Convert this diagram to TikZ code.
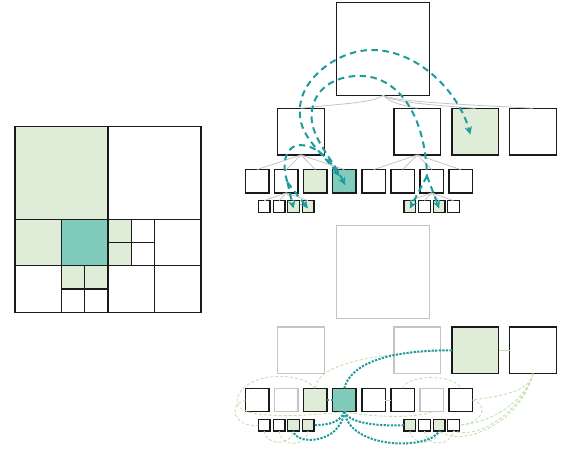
\documentclass[tikz,border=0pt]{standalone}
\usetikzlibrary{arrows.meta}
\definecolor{leaf}{HTML}{DFEDD8}
\definecolor{query}{HTML}{80CBBB}
\definecolor{path}{HTML}{1E9C9C}
\definecolor{adj}{HTML}{C2E0AE}
\definecolor{faint}{HTML}{C4C4C4}
\definecolor{ink}{HTML}{1A1A1A}
\tikzset{
  cell/.style={draw=ink, line width=1.4pt, inner sep=0pt, outer sep=0pt, fill=white},
  ghost/.style={cell, draw=faint},
  lvl0/.style={minimum size=93pt},
  lvl1/.style={minimum size=46.6pt},
  lvl2/.style={minimum size=23.3pt},
  lvl3/.style={minimum size=11.6pt},
  near/.style={fill=leaf},
  self/.style={fill=query},
  treeline/.style={draw=faint, line width=0.8pt},
  hop/.style={draw=path, line width=2pt, dash pattern=on 6.5pt off 4.5pt},
  head/.tip={Stealth[length=8pt,width=7.5pt]},
  probe/.style={draw=path, line width=2pt, dash pattern=on 2.2pt off 1.4pt},
  link/.style={draw=adj, line width=0.9pt, dash pattern=on 3pt off 2pt},
}
\begin{document}
\begin{tikzpicture}[x=1pt, y=-1pt]
\useasboundingbox (0,0) rectangle (566,449);

% ---------- spatial subdivision ----------
\begin{scope}[shift={(15,126.3)}, x=23.25pt, y=-23.25pt]
  \fill[leaf] (0,0) rectangle (4,4);
  \fill[leaf] (0,4) rectangle (2,6);
  \fill[leaf] (2,6) rectangle (4,7);
  \fill[leaf] (4,4) rectangle (5,6);
  \fill[query] (2,4) rectangle (4,6);
  \begin{scope}[draw=ink, line width=1.4pt]
    \draw (0,0) rectangle (8,8);
    \draw (4,0) -- (4,8);
    \draw (0,4) -- (8,4);
    \draw (2,4) -- (2,8);
    \draw (0,6) -- (8,6);
    \draw (3,6) -- (3,8);
    \draw (2,7) -- (4,7);
    \draw (6,4) -- (6,8);
    \draw (5,4) -- (5,6);
    \draw (4,5) -- (6,5);
  \end{scope}
\end{scope}

% ---------- upper tree ----------
\node[cell,lvl0] (r) at (382.8,48.8) {};
\node[cell,lvl1] (a1) at (301,131.6) {};
\node[cell,lvl1] (a2) at (417.3,131.6) {};
\node[cell,lvl1,near] (a3) at (475.3,131.6) {};
\node[cell,lvl1] (a4) at (533,131.6) {};
\node[cell,lvl2] (b1) at (257.3,181.2) {};
\node[cell,lvl2] (b2) at (286.3,181.2) {};
\node[cell,lvl2,near] (b3) at (315.3,181.2) {};
\node[cell,lvl2,self] (b4) at (344.3,181.2) {};
\node[cell,lvl2] (b5) at (373.7,181.2) {};
\node[cell,lvl2] (b6) at (402.7,181.2) {};
\node[cell,lvl2] (b7) at (431.7,181.2) {};
\node[cell,lvl2] (b8) at (460.7,181.2) {};
\node[cell,lvl3] (c1) at (264.1,206.5) {};
\node[cell,lvl3] (c2) at (279.2,206.5) {};
\node[cell,lvl3,near] (c3) at (293.5,206.5) {};
\node[cell,lvl3,near] (c4) at (308,206.5) {};
\node[cell,lvl3,near] (c5) at (409.9,206.5) {};
\node[cell,lvl3] (c6) at (424.5,206.5) {};
\node[cell,lvl3,near] (c7) at (439.2,206.5) {};
\node[cell,lvl3] (c8) at (453.5,206.5) {};

\draw[treeline] (r.south) .. controls +(-8,8) and +(30,-4) .. (a1.north);
\draw[treeline] (r.south) .. controls +(8,7) and +(-20,-4) .. (a2.north);
\draw[treeline] (r.south) .. controls +(10,7) and +(-40,-3) .. (a3.north);
\draw[treeline] (r.south) .. controls +(12,7) and +(-50,-3) .. (a4.north);
\foreach \i in {1,2,3,4} \draw[treeline] (a1.south) -- (b\i.north);
\foreach \i in {5,6,7,8} \draw[treeline] (a2.south) -- (b\i.north);
\foreach \i in {1,2,3,4} \draw[treeline] (b2.south) -- (c\i.north);
\foreach \i in {5,6,7,8} \draw[treeline] (b7.south) -- (c\i.north);

% traversal arcs
\coordinate (forkL) at (287.5,182.5);
\coordinate (forkR) at (427,176);
\draw[hop, head-head] ([xshift=-5pt,yshift=5pt]b4.center)
  .. controls (320,150) and (298,135) .. (300,110)
  .. controls (299,82) and (335,50) .. (372,50)
  .. controls (420,50) and (460,95) .. ([xshift=-5pt,yshift=-3pt]a3.center);
\draw[hop, head-] ([xshift=1pt,yshift=-4pt]b4.center)
  .. controls (330,155) and (308,135) .. (312,110)
  .. controls (316,85) and (340,75) .. (362,76)
  .. controls (395,77) and (425,110) .. (forkR);
\draw[hop] ([xshift=-6pt,yshift=8pt]b4.center)
  .. controls (328,158) and (315,145) .. (300,145)
  .. controls (288,145) and (280,160) .. (forkL);
\draw[hop, -head] (forkL) -- ([yshift=-2pt]c3.center);
\draw[hop, -head] (forkL) -- ([yshift=-2pt]c4.center);
\draw[hop, -head] (forkR) -- ([yshift=-2pt]c5.center);
\draw[hop, -head] (forkR) -- ([yshift=-2pt]c7.center);

% ---------- lower tree ----------
\node[ghost,lvl0] (R) at (382.8,272) {};
\node[ghost,lvl1] (A1) at (301,350.3) {};
\node[ghost,lvl1] (A2) at (417.3,350.3) {};
\node[cell,lvl1,near] (A3) at (475.3,350.3) {};
\node[cell,lvl1] (A4) at (533,350.3) {};
\node[cell,lvl2] (B1) at (257.3,400) {};
\node[ghost,lvl2] (B2) at (286.3,400) {};
\node[cell,lvl2,near] (B3) at (315.3,400) {};
\node[cell,lvl2,self] (B4) at (344.3,400) {};
\node[cell,lvl2] (B5) at (373.7,400) {};
\node[cell,lvl2] (B6) at (402.7,400) {};
\node[ghost,lvl2] (B7) at (431.7,400) {};
\node[cell,lvl2] (B8) at (460.7,400) {};
\node[cell,lvl3] (C1) at (264.1,425.2) {};
\node[cell,lvl3] (C2) at (279.2,425.2) {};
\node[cell,lvl3,near] (C3) at (293.5,425.2) {};
\node[cell,lvl3,near] (C4) at (308,425.2) {};
\node[cell,lvl3,near] (C5) at (409.9,425.2) {};
\node[cell,lvl3] (C6) at (424.5,425.2) {};
\node[cell,lvl3,near] (C7) at (439.2,425.2) {};
\node[cell,lvl3] (C8) at (453.5,425.2) {};

% adjacency links
\draw[link] (A3.west) .. controls (390,353) and (318,360) .. (B3.north);
\draw[link] (B3.north) .. controls (300,370) and (242,372) .. (237,400)
  .. controls (233,420) and (300,417) .. (B4.south);
\draw[link] (B1.west) .. controls (226,405) and (235,428) .. (C1.west);
\draw[link] (C1.south) .. controls (266,446) and (291,446) .. (C3.south);
\draw[link] (C2.south) .. controls (281,448) and (306,447) .. (C4.south);
\draw[link] (B6.north) .. controls (408,374) and (455,374) .. (B8.north);
\draw[link, solid] (B5.east) -- (B6.west);
\draw[link, solid] (A3.east) -- (A4.west);
\draw[link] (A4.south) .. controls (530,392) and (500,396) .. (B8.east);
\draw[link] (A4.south) .. controls (525,400) and (495,422) .. (C8.east);
\draw[link] (A4.south) .. controls (522,410) and (480,440) .. (C8.south);
\draw[link] (A4.south) .. controls (520,425) and (460,448) .. (C7.south);
\draw[link] (B8.east) .. controls (490,405) and (482,424) .. (C8.east);
\draw[link] (C5.south) .. controls (412,446) and (436,446) .. (C7.south);
\draw[link] (C6.south) .. controls (426,447) and (451,447) .. (C8.south);
\draw[link] (B4.south) .. controls (375,418) and (420,418) .. (B7.south);

% probes from the query cell
\draw[probe] (B4.north) .. controls (350,365) and (385,350) .. (A3.west);
\draw[probe] (B3.east) -- (B4.west);
\draw[probe] (B4.south) .. controls (340,422) and (330,425) .. (C4.east);
\draw[probe] (B4.south) .. controls (340,445) and (295,445) .. (C3.south);
\draw[probe] (B4.south) .. controls (350,425) and (385,426) .. (C5.west);
\draw[probe] (B4.south) .. controls (350,450) and (430,450) .. (C7.south);
\end{tikzpicture}
\end{document}
